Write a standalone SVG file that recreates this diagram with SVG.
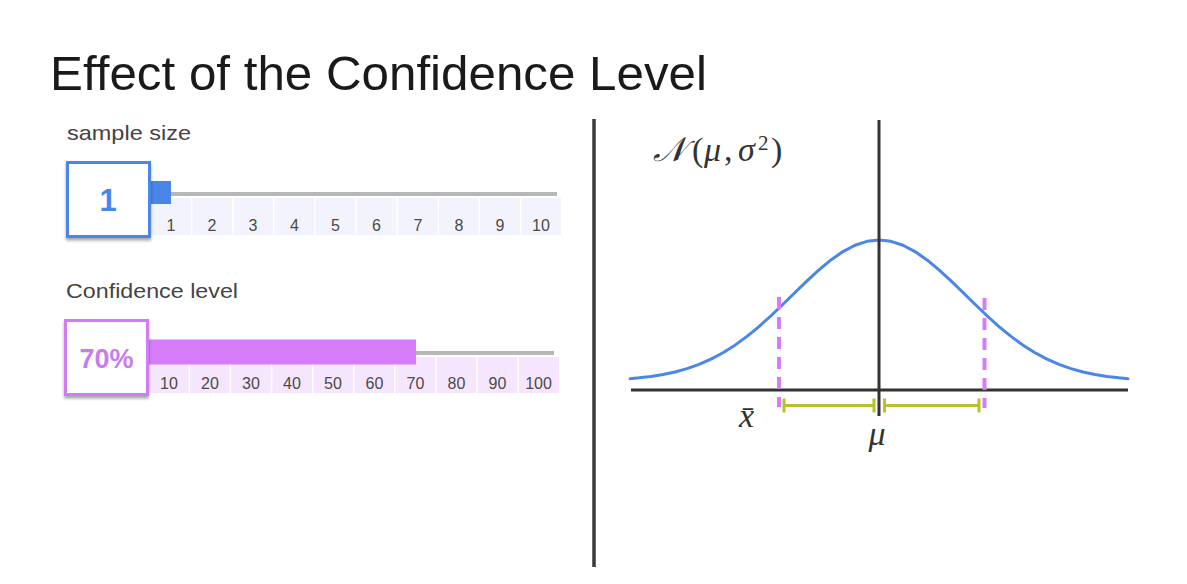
<svg xmlns="http://www.w3.org/2000/svg" width="1187" height="584" viewBox="0 0 1187 584">
<defs>
<filter id="sh" x="-20%" y="-20%" width="140%" height="150%">
<feDropShadow dx="0" dy="2.5" stdDeviation="1.5" flood-color="#000" flood-opacity="0.35"/>
</filter>
<style>
.sans{font-family:"Liberation Sans",Arial,sans-serif}
.lbl{font-family:"Liberation Sans",Arial,sans-serif;font-size:21px;fill:#444}
.tick{font-family:"Liberation Sans",Arial,sans-serif;font-size:16px;fill:#4a4a4a;text-anchor:middle}
.track{fill:#b7b7b7}
.sep{stroke:#fff;stroke-width:1.5}
.math{font-family:"Liberation Serif","Times New Roman",serif;fill:#333}
.axis{stroke:#333;stroke-width:3;fill:none}
.dash{stroke:#d57cf9;stroke-width:4;stroke-dasharray:12 8;fill:none}
.ci{stroke:#b5c22e;stroke-width:3;fill:none}
</style>
</defs>
<rect width="1187" height="584" fill="#fff"/>
<text id="title" class="sans" x="50" y="90" font-size="48" fill="#1a1a1a" textLength="657" lengthAdjust="spacingAndGlyphs">Effect of the Confidence Level</text>

<g id="sample-size">
<text class="lbl" x="67" y="140" textLength="124" lengthAdjust="spacingAndGlyphs">sample size</text>
<rect x="151" y="198" width="410" height="37" fill="#f2f3fc"/>
<g class="sep">
<line x1="191.7" y1="198" x2="191.7" y2="235"/><line x1="232.8" y1="198" x2="232.8" y2="235"/><line x1="273.9" y1="198" x2="273.9" y2="235"/><line x1="315" y1="198" x2="315" y2="235"/><line x1="356.1" y1="198" x2="356.1" y2="235"/><line x1="397.2" y1="198" x2="397.2" y2="235"/><line x1="438.3" y1="198" x2="438.3" y2="235"/><line x1="479.4" y1="198" x2="479.4" y2="235"/><line x1="520.5" y1="198" x2="520.5" y2="235"/>
</g>
<rect class="track" x="170" y="192" width="387" height="4"/>
<rect x="151" y="181" width="20" height="23" fill="#4a86e8"/>
<g>
<text class="tick" x="171" y="231">1</text><text class="tick" x="212" y="231">2</text><text class="tick" x="253" y="231">3</text><text class="tick" x="294.5" y="231">4</text><text class="tick" x="335.5" y="231">5</text><text class="tick" x="376.5" y="231">6</text><text class="tick" x="418" y="231">7</text><text class="tick" x="459" y="231">8</text><text class="tick" x="500" y="231">9</text><text class="tick" x="541" y="231">10</text>
</g>
<rect x="67.5" y="162.5" width="82" height="74" fill="#fff" stroke="#4a86e8" stroke-width="3" filter="url(#sh)"/>
<text class="sans" x="108" y="211" font-size="31" font-weight="bold" fill="#4a86e8" text-anchor="middle">1</text>
</g>

<g id="confidence-level">
<text class="lbl" x="66" y="298" textLength="172" lengthAdjust="spacingAndGlyphs">Confidence level</text>
<rect x="148" y="357" width="411" height="36" fill="#f6e6fd"/>
<g class="sep">
<line x1="189.3" y1="357" x2="189.3" y2="393"/><line x1="230.4" y1="357" x2="230.4" y2="393"/><line x1="271.5" y1="357" x2="271.5" y2="393"/><line x1="312.6" y1="357" x2="312.6" y2="393"/><line x1="353.7" y1="357" x2="353.7" y2="393"/><line x1="394.8" y1="357" x2="394.8" y2="393"/><line x1="435.9" y1="357" x2="435.9" y2="393"/><line x1="477" y1="357" x2="477" y2="393"/><line x1="518.1" y1="357" x2="518.1" y2="393"/>
</g>
<rect class="track" x="414" y="351" width="140" height="4"/>
<rect x="148" y="339.5" width="268" height="25" fill="#d67cfb"/>
<g>
<text class="tick" x="169" y="389">10</text><text class="tick" x="210" y="389">20</text><text class="tick" x="251" y="389">30</text><text class="tick" x="292" y="389">40</text><text class="tick" x="333" y="389">50</text><text class="tick" x="374.5" y="389">60</text><text class="tick" x="415.5" y="389">70</text><text class="tick" x="456.5" y="389">80</text><text class="tick" x="497.5" y="389">90</text><text class="tick" x="538.5" y="389">100</text>
</g>
<rect x="65.5" y="320.5" width="82" height="74" fill="#fff" stroke="#d07cf5" stroke-width="3" filter="url(#sh)"/>
<text class="sans" x="106.5" y="367.5" font-size="27" font-weight="bold" fill="#c97ced" text-anchor="middle">70%</text>
</g>

<g id="divider">
<line x1="594" y1="119" x2="594" y2="567" stroke="#3a3a3a" stroke-width="3.5"/>
</g>

<g id="distribution-label">
<text class="math" y="161" font-size="34"><tspan x="653" font-style="italic">𝒩</tspan><tspan x="692">(</tspan><tspan x="704" font-style="italic">μ</tspan><tspan x="724">,</tspan><tspan x="738" font-style="italic">σ</tspan><tspan x="758" y="150" font-size="21">2</tspan><tspan x="771" y="161">)</tspan></text>
</g>

<g id="plot">
<path d="M630,378.65 L639,377.86 L651,376.45 L663,374.53 L675,371.98 L687,368.65 L699,364.42 L711,359.15 L723,352.75 L735,345.16 L747,336.4 L759,326.54 L771,315.75 L783,304.29 L795,292.53 L807,280.88 L819,269.85 L831,259.91 L843,251.57 L855,245.26 L867,241.33 L879,240 L891,241.33 L903,245.26 L915,251.57 L927,259.91 L939,269.85 L951,280.88 L963,292.53 L975,304.29 L987,315.75 L999,326.54 L1011,336.4 L1023,345.16 L1035,352.75 L1047,359.15 L1059,364.42 L1071,368.65 L1083,371.98 L1095,374.53 L1107,376.45 L1119,377.86 L1128,378.65" fill="none" stroke="#4a86e8" stroke-width="3" stroke-linejoin="round" stroke-linecap="round"/>
<line class="axis" x1="631" y1="390" x2="1128" y2="390"/>
<line class="axis" x1="879" y1="120" x2="879" y2="416"/>
</g>

<g id="connectors">
<line class="dash" x1="779" y1="297" x2="779" y2="407"/>
<line class="dash" x1="984.5" y1="298" x2="984.5" y2="408"/>
<g class="ci">
<line x1="784" y1="405.5" x2="874" y2="405.5"/><line x1="784" y1="398.5" x2="784" y2="412.5"/><line x1="874" y1="398.5" x2="874" y2="412.5"/>
<line x1="884.5" y1="405.5" x2="979" y2="405.5"/><line x1="884.5" y1="398.5" x2="884.5" y2="412.5"/><line x1="979" y1="398.5" x2="979" y2="412.5"/>
</g>
</g>

<g id="xbar-label">
<text class="math" x="739" y="427" font-size="34" font-style="italic">x̄</text>
</g>
<g id="mu-label">
<text class="math" x="877" y="445" font-size="34" font-style="italic" text-anchor="middle">μ</text>
</g>
</svg>
